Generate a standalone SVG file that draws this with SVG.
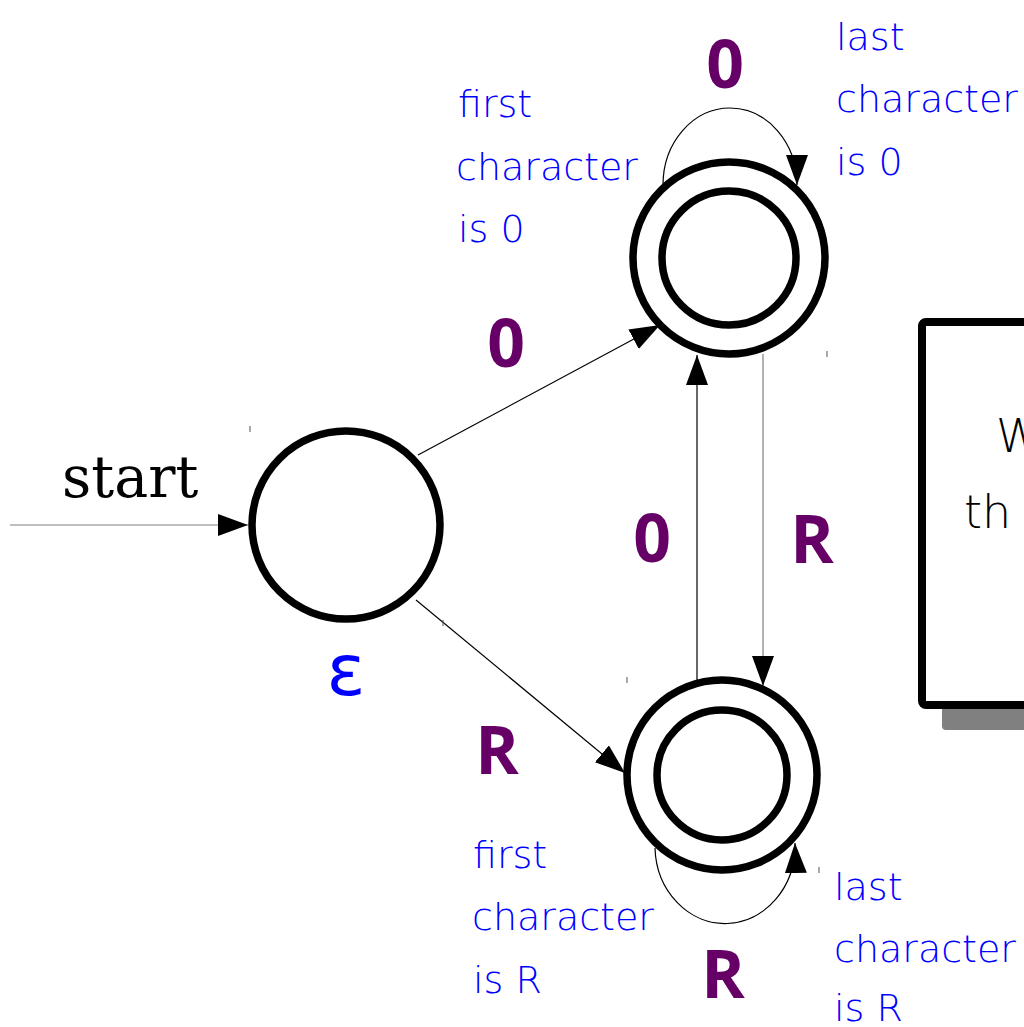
<svg xmlns="http://www.w3.org/2000/svg" width="1024" height="1027" viewBox="0 0 1024 1027">
<defs>
<marker id="ah" markerUnits="userSpaceOnUse" markerWidth="32" markerHeight="24" refX="30" refY="11" orient="auto">
<path d="M0,0 L30,11 L0,22 Z" fill="#000"/>
</marker>
</defs>
<style>
.st{fill:#fff;stroke:#000;stroke-width:7.5}
.ed{fill:none;stroke:#000;stroke-width:1.2}
.gr{stroke:#808080}
.sym{font-family:"Open Sans","DejaVu Sans",sans-serif;font-weight:bold;font-size:66px;fill:#660066;text-anchor:middle}
.note{font-family:"DejaVu Sans",sans-serif;font-weight:300;font-size:38px;fill:#0000ff}
.tick{stroke:#555;stroke-width:1}
</style>
<rect width="1024" height="1027" fill="#fff"/>
<g id="connectors">
<line class="ed gr" x1="10" y1="525" x2="248" y2="525" marker-end="url(#ah)"/>
<line class="ed" x1="418" y1="455" x2="660" y2="325" marker-end="url(#ah)"/>
<line class="ed" x1="416" y1="600" x2="625" y2="773" marker-end="url(#ah)"/>
<line class="ed" x1="697" y1="680" x2="697" y2="355" marker-end="url(#ah)"/>
<line class="ed gr" x1="763" y1="354" x2="763" y2="686" marker-end="url(#ah)"/>
<path class="ed" d="M663,185 A67,77 0 0 1 797,185" marker-end="url(#ah)"/>
<path class="ed" d="M655,848 A70,78 0 0 0 795,843" marker-end="url(#ah)"/>
</g>
<g id="start-label"><text x="62" y="497" font-family="DejaVu Serif,serif" font-size="57px">start</text></g>
<g id="state-eps">
<circle class="st" cx="346" cy="525" r="94"/>
<text x="346" y="695" font-family="DejaVu Sans,sans-serif" font-size="72px" fill="#0000ff" text-anchor="middle">ε</text>
</g>
<g id="state-0">
<circle class="st" cx="729" cy="258" r="96"/>
<circle class="st" cx="729" cy="258" r="67"/>
</g>
<g id="state-R">
<circle class="st" cx="722" cy="775" r="95"/>
<circle class="st" cx="722" cy="775" r="65"/>
</g>
<g id="labels">
<text class="sym" x="725" y="88">0</text>
<text class="sym" x="506" y="367">0</text>
<text class="sym" x="497" y="774">R</text>
<text class="sym" x="652" y="562">0</text>
<text class="sym" x="812" y="563">R</text>
<text class="sym" x="723" y="998">R</text>
</g>
<g id="notes">
<text class="note" x="458" y="117">first</text>
<text class="note" x="456" y="180">character</text>
<text class="note" x="458" y="242">is 0</text>
<text class="note" x="836" y="50">last</text>
<text class="note" x="836" y="112">character</text>
<text class="note" x="836" y="175">is 0</text>
<text class="note" x="473" y="868">first</text>
<text class="note" x="472" y="930">character</text>
<text class="note" x="473" y="993">is R</text>
<text class="note" x="834" y="900">last</text>
<text class="note" x="834" y="962">character</text>
<text class="note" x="834" y="1021">is R</text>
</g>
<g id="box">
<rect x="942" y="340" width="150" height="390" rx="4" fill="#808080"/>
<rect x="922" y="322" width="150" height="383" rx="4" fill="#fff" stroke="#000" stroke-width="8"/>
<text x="996" y="452" font-family="DejaVu Sans,sans-serif" font-weight="300" font-size="46px" fill="#000">W</text>
<text x="964" y="528" font-family="DejaVu Sans,sans-serif" font-weight="300" font-size="46px" fill="#000">th</text>
</g>
<g id="ticks">
<line class="tick" x1="250" y1="426" x2="250" y2="432"/>
<line class="tick" x1="443" y1="620" x2="443" y2="626"/>
<line class="tick" x1="827" y1="351" x2="827" y2="357"/>
<line class="tick" x1="627" y1="677" x2="627" y2="683"/>
<line class="tick" x1="819" y1="867" x2="819" y2="873"/>
</g>
</svg>
